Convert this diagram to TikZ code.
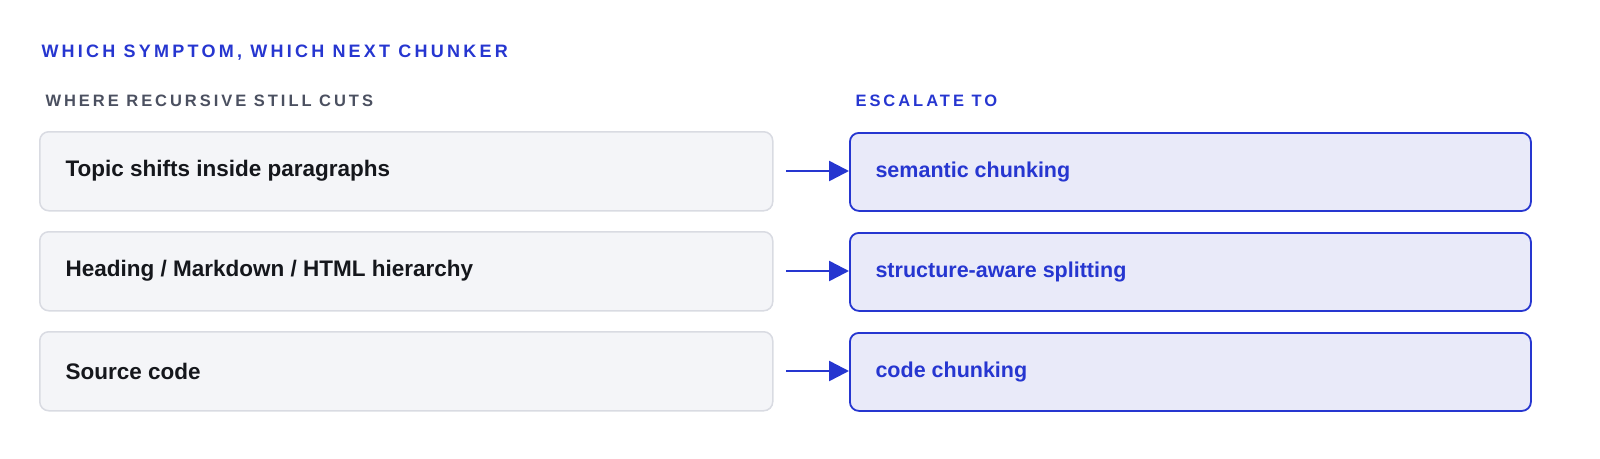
\documentclass[tikz,border=0pt]{standalone}
\usepackage{fontspec}
\setmainfont{Liberation Sans}
\newfontfamily\spaced[LetterSpace=18]{Liberation Sans}
\usetikzlibrary{arrows.meta}
\definecolor{accent}{HTML}{2636D0}
\definecolor{lfill}{HTML}{F4F5F8}
\definecolor{lborder}{HTML}{D9DBE2}
\definecolor{rfill}{HTML}{E9EAF9}
\definecolor{graytxt}{HTML}{4B5060}
\definecolor{dark}{HTML}{15171C}
\begin{document}
\begin{tikzpicture}[x=1pt,y=-1pt,
  lbox/.style={draw=lborder,line width=1.5pt,fill=lfill,rounded corners=9pt,minimum width=733pt,minimum height=79pt,anchor=north west,inner sep=0pt},
  rbox/.style={draw=accent,line width=1.8pt,fill=rfill,rounded corners=9pt,minimum width=681pt,minimum height=78pt,anchor=north west,inner sep=0pt},
  ltxt/.style={anchor=west,font=\bfseries\fontsize{22.5}{26}\selectfont,text=dark},
  rtxt/.style={anchor=west,font=\bfseries\fontsize{21.5}{26}\selectfont,text=accent},
  arr/.style={-{Triangle[length=20pt,width=20pt]},line width=2.5pt,draw=accent}]
\useasboundingbox (0,0) rectangle (1600,458);
\node[anchor=west,font=\spaced\bfseries\fontsize{18}{20}\selectfont,text=accent] (title) at (38,53) {WHICH SYMPTOM, WHICH NEXT CHUNKER};
\node[anchor=west,font=\spaced\bfseries\fontsize{16.5}{18}\selectfont,text=graytxt] (hl) at (42,101) {WHERE RECURSIVE STILL CUTS};
\node[anchor=west,font=\spaced\bfseries\fontsize{16.5}{18}\selectfont,text=accent] (hr) at (852,101) {ESCALATE TO};
\node[lbox] (l1) at (39,131) {};
\node[lbox] (l2) at (39,231) {};
\node[lbox] (l3) at (39,331) {};
\node[rbox] (r1) at (849,132) {};
\node[rbox] (r2) at (849,232) {};
\node[rbox] (r3) at (849,332) {};
\node[ltxt] (lt1) at (62,171) {Topic shifts inside paragraphs};
\node[ltxt] (lt2) at (62,271) {Heading / Markdown / HTML hierarchy};
\node[ltxt] (lt3) at (62,371) {Source code};
\node[rtxt] (rt1) at (872,172) {semantic chunking};
\node[rtxt] (rt2) at (872,272) {structure-aware splitting};
\node[rtxt] (rt3) at (872,372) {code chunking};
\coordinate (a1) at (786,171);
\coordinate (a2) at (786,271);
\coordinate (a3) at (786,371);
\draw[arr] (a1) -- (a1 -| r1.west);
\draw[arr] (a2) -- (a2 -| r2.west);
\draw[arr] (a3) -- (a3 -| r3.west);
\end{tikzpicture}
\end{document}
